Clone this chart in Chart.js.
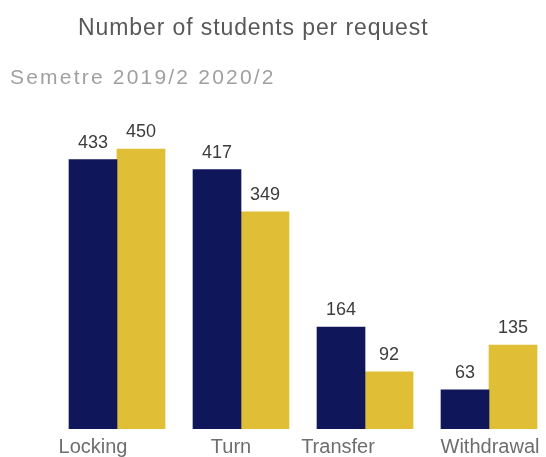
<!DOCTYPE html>
<html>
<head>
<meta charset="utf-8">
<script src="https://cdn.jsdelivr.net/npm/chart.js@4/dist/chart.umd.min.js"></script>
<style>
  html, body { margin: 0; padding: 0; background: #fff; }
  body { width: 546px; height: 457px; overflow: hidden; position: relative; font-family: "Liberation Sans", Arial, sans-serif; }
  .title { position: absolute; left: 78px; top: 16px; font-size: 23px; line-height: 23px; letter-spacing: 0.9px; color: #585858; white-space: nowrap; }
  .subtitle { position: absolute; left: 10px; top: 66px; font-size: 21px; line-height: 21px; letter-spacing: 2.2px; color: #a0a0a0; white-space: nowrap; }
  .wrap { position: absolute; left: 0; top: 0; width: 562px; height: 465px; }
</style>
</head>
<body>
<div class="wrap"><canvas id="requestChart"></canvas></div>
<div class="title">Number of students per request</div>
<div class="subtitle">Semetre 2019/2 2020/2</div>
<script>
const categories = ["Locking", "Turn", "Transfer", "Withdrawal"];
const semester2019 = [433, 417, 164, 63];
const semester2020 = [450, 349, 92, 135];

const NAVY = "#10165a";
const GOLD = "#e0bf36";
const FONT = '"Liberation Sans", Arial, sans-serif';

// category labels sit a little off the group centre in the original layout
const labelNudge = [-24, -10, -27, 1];

// value text above each bar
const barValues = {
  id: "barValues",
  afterDatasetsDraw(chart) {
    const ctx = chart.ctx;
    ctx.save();
    ctx.font = "18px " + FONT;
    ctx.fillStyle = "#3c3c3c";
    ctx.textAlign = "center";
    ctx.textBaseline = "alphabetic";
    chart.data.datasets.forEach((ds, i) => {
      chart.getDatasetMeta(i).data.forEach((bar, j) => {
        ctx.fillText(String(ds.data[j]), bar.x, bar.y - 12);
      });
    });
    ctx.restore();
  }
};

// category names under the groups
const categoryLabels = {
  id: "categoryLabels",
  afterDraw(chart) {
    const ctx = chart.ctx;
    const xs = chart.scales.x;
    ctx.save();
    ctx.font = "20px " + FONT;
    ctx.fillStyle = "#6e6e6e";
    ctx.textAlign = "center";
    ctx.textBaseline = "alphabetic";
    chart.data.labels.forEach((lab, i) => {
      ctx.fillText(lab, xs.getPixelForValue(i) + labelNudge[i], chart.chartArea.bottom + 24);
    });
    ctx.restore();
  }
};

new Chart(document.getElementById("requestChart"), {
  type: "bar",
  data: {
    labels: categories,
    datasets: [
      { label: "2019/2", data: semester2019, backgroundColor: NAVY, barThickness: 48 },
      { label: "2020/2", data: semester2020, backgroundColor: GOLD, barThickness: 48 }
    ]
  },
  options: {
    responsive: true,
    maintainAspectRatio: false,
    animation: false,
    layout: { padding: { left: 55, right: 11, top: 118, bottom: 36 } },
    plugins: { legend: { display: false }, tooltip: { enabled: false } },
    scales: {
      x: {
        grid: { display: false, drawTicks: false },
        border: { display: false },
        ticks: { display: false }
      },
      y: { display: false, min: 0, max: 500 }
    }
  },
  plugins: [barValues, categoryLabels]
});
</script>
</body>
</html>
